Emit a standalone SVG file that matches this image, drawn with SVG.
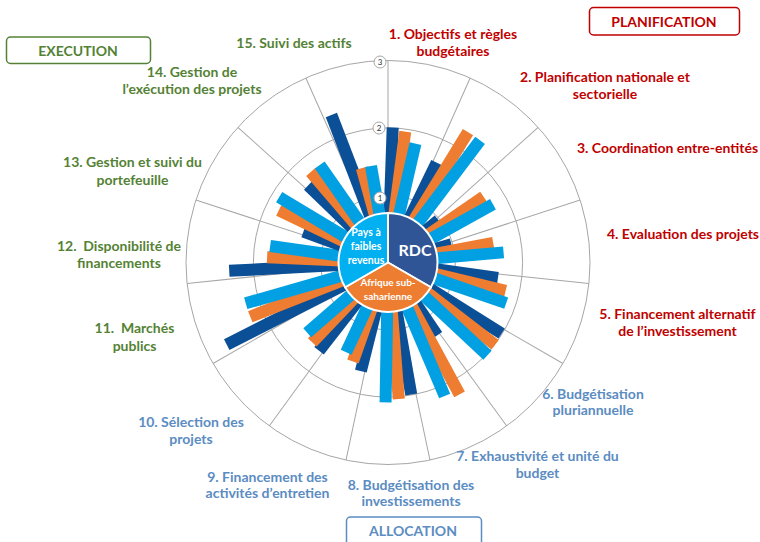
<svg xmlns="http://www.w3.org/2000/svg" width="760" height="542" viewBox="0 0 760 542">
<style>
text{font-family:Lato,"Open Sans","Liberation Sans",sans-serif;font-weight:bold}
.lbl{font-size:14px;text-anchor:middle}
.st{text-anchor:start}
.red{fill:#c00000}
.blu{fill:#5b8cc2}
.grn{fill:#548235}
.grid{stroke:#a6a6a6;stroke-width:1;fill:none}
.db{fill:#0b4f96}
.or{fill:#ee7d31}
.lb{fill:#00a0e3}
.tick{fill:#fff;stroke:#a6a6a6;stroke-width:1}
.tt{font-size:8px;fill:#333;text-anchor:middle;font-weight:normal}
.box{fill:#fff;stroke-width:1.5}
.in{fill:#fff;text-anchor:middle}
</style>
<rect width="760" height="542" fill="#fff"/>
<g id="grid" transform="translate(388 262.5)">
<circle class="grid" r="67.3"/>
<circle class="grid" r="134.6"/>
<circle class="grid" r="202"/>
<g class="grid">
<line x2="0" y2="-202"/>
<line x2="0" y2="-202" transform="rotate(24)"/>
<line x2="0" y2="-202" transform="rotate(48)"/>
<line x2="0" y2="-202" transform="rotate(72)"/>
<line x2="0" y2="-202" transform="rotate(96)"/>
<line x2="0" y2="-202" transform="rotate(120)"/>
<line x2="0" y2="-202" transform="rotate(144)"/>
<line x2="0" y2="-202" transform="rotate(168)"/>
<line x2="0" y2="-202" transform="rotate(192)"/>
<line x2="0" y2="-202" transform="rotate(216)"/>
<line x2="0" y2="-202" transform="rotate(240)"/>
<line x2="0" y2="-202" transform="rotate(264)"/>
<line x2="0" y2="-202" transform="rotate(288)"/>
<line x2="0" y2="-202" transform="rotate(312)"/>
<line x2="0" y2="-202" transform="rotate(336)"/>
</g>
</g>
<g id="bars" transform="translate(388 262.5)">
<rect class="db" x="-6" y="-135" width="12" height="105" transform="rotate(2)"/>
<rect class="or" x="-6" y="-132" width="12" height="102" transform="rotate(7.5)"/>
<rect class="lb" x="-6" y="-122" width="12" height="92" transform="rotate(13)"/>
<rect class="db" x="-6" y="-111" width="12" height="81" transform="rotate(26)"/>
<rect class="or" x="-6" y="-153" width="12" height="123" transform="rotate(31.5)"/>
<rect class="lb" x="-6" y="-153" width="12" height="123" transform="rotate(37)"/>
<rect class="db" x="-6" y="-66" width="12" height="36" transform="rotate(50)"/>
<rect class="or" x="-6" y="-116" width="12" height="86" transform="rotate(55.5)"/>
<rect class="lb" x="-6" y="-120" width="12" height="90" transform="rotate(61)"/>
<rect class="db" x="-6" y="-66" width="12" height="36" transform="rotate(74)"/>
<rect class="or" x="-6" y="-107" width="12" height="77" transform="rotate(79.5)"/>
<rect class="lb" x="-6" y="-116" width="12" height="86" transform="rotate(85)"/>
<rect class="db" x="-6" y="-111" width="12" height="81" transform="rotate(98)"/>
<rect class="or" x="-6" y="-121" width="12" height="91" transform="rotate(103.5)"/>
<rect class="lb" x="-6" y="-125" width="12" height="95" transform="rotate(109)"/>
<rect class="db" x="-6" y="-134" width="12" height="104" transform="rotate(122)"/>
<rect class="or" x="-6" y="-135" width="12" height="105" transform="rotate(127.5)"/>
<rect class="lb" x="-6" y="-136" width="12" height="106" transform="rotate(133)"/>
<rect class="db" x="-6" y="-88" width="12" height="58" transform="rotate(146)"/>
<rect class="or" x="-6" y="-150" width="12" height="120" transform="rotate(151.5)"/>
<rect class="lb" x="-6" y="-145" width="12" height="115" transform="rotate(157)"/>
<rect class="db" x="-6" y="-134" width="12" height="104" transform="rotate(170)"/>
<rect class="or" x="-6" y="-137" width="12" height="107" transform="rotate(175.5)"/>
<rect class="lb" x="-6" y="-140" width="12" height="110" transform="rotate(181)"/>
<rect class="db" x="-6" y="-112" width="12" height="82" transform="rotate(194)"/>
<rect class="or" x="-6" y="-105" width="12" height="75" transform="rotate(199.5)"/>
<rect class="lb" x="-6" y="-99" width="12" height="69" transform="rotate(205)"/>
<rect class="db" x="-6" y="-112" width="12" height="82" transform="rotate(218)"/>
<rect class="or" x="-6" y="-110" width="12" height="80" transform="rotate(223.5)"/>
<rect class="lb" x="-6" y="-107" width="12" height="77" transform="rotate(229)"/>
<rect class="db" x="-6" y="-181" width="12" height="151" transform="rotate(243)"/>
<rect class="or" x="-6" y="-148" width="12" height="118" transform="rotate(248.5)"/>
<rect class="lb" x="-6" y="-148" width="12" height="118" transform="rotate(254)"/>
<rect class="db" x="-6" y="-159" width="12" height="129" transform="rotate(267)"/>
<rect class="or" x="-6" y="-121" width="12" height="91" transform="rotate(272.5)"/>
<rect class="lb" x="-6" y="-119" width="12" height="89" transform="rotate(278)"/>
<rect class="db" x="-6" y="-90" width="12" height="60" transform="rotate(290)"/>
<rect class="or" x="-6" y="-121" width="12" height="91" transform="rotate(295.5)"/>
<rect class="lb" x="-6" y="-127" width="12" height="97" transform="rotate(301)"/>
<rect class="db" x="-6" y="-111" width="12" height="81" transform="rotate(314)"/>
<rect class="or" x="-6" y="-119" width="12" height="89" transform="rotate(319.5)"/>
<rect class="lb" x="-6" y="-119" width="12" height="89" transform="rotate(325)"/>
<rect class="db" x="-6" y="-158" width="12" height="128" transform="rotate(339)"/>
<rect class="or" x="-6" y="-98" width="12" height="68" transform="rotate(344.5)"/>
<rect class="lb" x="-6" y="-98" width="12" height="68" transform="rotate(350)"/>
</g>
<g id="ticks">
<circle class="tick" cx="380" cy="62" r="6"/><text class="tt" x="380" y="65">3</text>
<circle class="tick" cx="379" cy="128" r="6"/><text class="tt" x="379" y="131">2</text>
<circle class="tick" cx="380" cy="198" r="6"/><text class="tt" x="380" y="201">1</text>
</g>
<g id="center">
<path d="M388,262.5 L388,213 A49.5,49.5 0 0 1 430.87,287.25 Z" fill="#2f5597" stroke="#fff" stroke-width="2"/>
<path d="M388,262.5 L430.87,287.25 A49.5,49.5 0 0 1 345.13,287.25 Z" fill="#ed7d31" stroke="#fff" stroke-width="2"/>
<path d="M388,262.5 L345.13,287.25 A49.5,49.5 0 0 1 388,213 Z" fill="#00b0f0" stroke="#fff" stroke-width="2"/>
<text class="in" x="415" y="256" font-size="16">RDC</text>
<text class="in" x="366" y="236" font-size="10.5">Pays à</text>
<text class="in" x="366" y="250" font-size="10.5">faibles</text>
<text class="in" x="366" y="264" font-size="10.5">revenus</text>
<text class="in" x="388" y="286" font-size="10">Afrique sub-</text>
<text class="in" x="388" y="300" font-size="10">saharienne</text>
</g>
<g id="box-planification">
<rect class="box" x="589.5" y="7.5" width="150" height="27.5" rx="4" stroke="#c00000"/>
<text class="lbl red" x="664" y="27">PLANIFICATION</text>
</g>
<g id="box-execution">
<rect class="box" x="6.5" y="37" width="144" height="26.5" rx="4" stroke="#548235"/>
<text class="lbl grn" x="78" y="55.5" font-size="13.5">EXECUTION</text>
</g>
<g id="box-allocation">
<rect class="box" x="346.5" y="517" width="135" height="35" rx="4" stroke="#5b8cc2"/>
<text class="lbl blu" x="413" y="536" font-size="13.5">ALLOCATION</text>
</g>
<g id="labels">
<text class="lbl red" x="453" y="39">1. Objectifs et règles</text>
<text class="lbl red" x="453" y="55.5">budgétaires</text>
<text class="lbl red" x="605" y="82">2. Planification nationale et</text>
<text class="lbl red" x="605" y="99">sectorielle</text>
<text class="lbl red st" x="577" y="153">3. Coordination entre-entités</text>
<text class="lbl red st" x="607" y="239">4. Evaluation des projets</text>
<text class="lbl red" x="677.5" y="319">5. Financement alternatif</text>
<text class="lbl red" x="677.5" y="336">de l’investissement</text>
<text class="lbl blu" x="593" y="399">6. Budgétisation</text>
<text class="lbl blu" x="593" y="415">pluriannuelle</text>
<text class="lbl blu" x="537.5" y="461">7. Exhaustivité et unité du</text>
<text class="lbl blu" x="537.5" y="478">budget</text>
<text class="lbl blu" x="411" y="490">8. Budgétisation des</text>
<text class="lbl blu" x="411" y="506">investissements</text>
<text class="lbl blu" x="267.5" y="482">9. Financement des</text>
<text class="lbl blu" x="267.5" y="498">activités d’entretien</text>
<text class="lbl blu" x="191" y="427">10. Sélection des</text>
<text class="lbl blu" x="191" y="444">projets</text>
<text class="lbl grn" x="134.5" y="333" xml:space="preserve">11.  Marchés</text>
<text class="lbl grn" x="134.5" y="350.5">publics</text>
<text class="lbl grn" x="119" y="250.5" xml:space="preserve">12.  Disponibilité de</text>
<text class="lbl grn" x="119" y="267.5">financements</text>
<text class="lbl grn" x="132.5" y="166.5">13. Gestion et suivi du</text>
<text class="lbl grn" x="132.5" y="184.5">portefeuille</text>
<text class="lbl grn" x="192" y="77">14. Gestion de</text>
<text class="lbl grn" x="192" y="94">l’exécution des projets</text>
<text class="lbl grn" x="294" y="48">15. Suivi des actifs</text>
</g>
</svg>
